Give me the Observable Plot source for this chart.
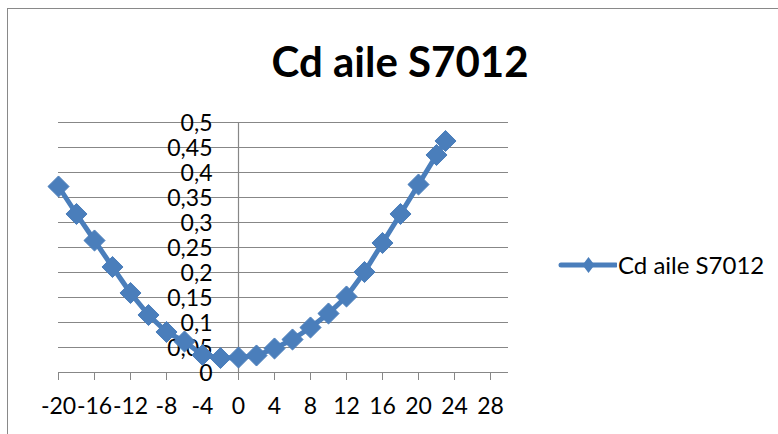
<!DOCTYPE html>
<html>
<head>
<meta charset="utf-8">
<script src="https://cdn.jsdelivr.net/npm/d3@7"></script>
<script src="https://cdn.jsdelivr.net/npm/@observablehq/plot@0.6"></script>
<style>
html, body { margin: 0; padding: 0; background: #fff; overflow: hidden; }
#wrap { position: relative; width: 778px; height: 434px; font-family: Lato, "Open Sans", sans-serif; color: #000; }
#frame { position: absolute; left: 7px; top: 8px; width: 900px; height: 600px; border: 1px solid #898989; box-sizing: border-box; }
#chart { position: absolute; left: 0; top: 0; }
#title { position: absolute; left: 0; top: 40px; width: 800px; text-align: center; font-weight: bold; font-size: 42px; line-height: 42px; }
#legend { position: absolute; left: 555px; top: 250px; height: 30px; display: flex; align-items: center; }
#legend span { font-size: 24px; line-height: 30px; margin-left: 1px; }
</style>
</head>
<body>
<div id="wrap">
  <div id="frame"></div>
  <div id="chart"></div>
  <div id="title">Cd aile S7012</div>
  <div id="legend">
    <svg width="62" height="30" viewBox="0 0 62 30">
      <line x1="6" y1="15" x2="61" y2="15" stroke="#4a7ebb" stroke-width="5" stroke-linecap="round"></line>
      <polygon points="33.5,7 39.5,15 33.5,23 27.5,15" fill="#4a7ebb"></polygon>
    </svg>
    <span>Cd aile S7012</span>
  </div>
</div>
<script>
// Angle of attack (deg)
const alpha = [-20, -18, -16, -14, -12, -10, -8, -6, -4, -2, 0, 2, 4, 6, 8, 10, 12, 14, 16, 18, 20, 22, 23];
// Cd aile S7012
const cd = [0.372, 0.317, 0.264, 0.211, 0.159, 0.115, 0.081, 0.062, 0.035, 0.029, 0.030, 0.034, 0.048, 0.066, 0.090, 0.118, 0.152, 0.201, 0.259, 0.317, 0.376, 0.435, 0.463];
const seriesName = "Cd aile S7012";

const xTicks = [-20, -16, -12, -8, -4, 0, 4, 8, 12, 16, 20, 24, 28];
const xTickLabels = ["-20", "-16", "-12", "-8", "-4", "0", "4", "8", "12", "16", "20", "24", "28"];
const yTicks = [0, 0.05, 0.1, 0.15, 0.2, 0.25, 0.3, 0.35, 0.4, 0.45, 0.5];
const yTickLabels = ["0", "0,05", "0,1", "0,15", "0,2", "0,25", "0,3", "0,35", "0,4", "0,45", "0,5"];

const data = alpha.map((a, i) => ({alpha: a, cd: cd[i], series: seriesName}));
const yLab = yTicks.map((v, i) => ({v, label: yTickLabels[i]}));
const gridColor = "#878787";
const blue = "#4a7ebb";

const chart = Plot.plot({
  width: 778,
  height: 434,
  marginLeft: 58,
  marginRight: 270,
  marginTop: 122,
  marginBottom: 62,
  style: {fontFamily: "Lato, 'Open Sans', sans-serif", fontSize: "23px", color: "#000", background: "transparent", overflow: "visible"},
  x: {
    domain: [-20, 30],
    ticks: xTicks,
    tickFormat: d => xTickLabels[xTicks.indexOf(d)],
    tickSize: 8,
    tickPadding: 17,
    label: null
  },
  y: {domain: [0, 0.5], axis: null},
  marks: [
    Plot.ruleY(yTicks.filter(d => d > 0), {stroke: gridColor, strokeWidth: 1.2}),
    Plot.ruleX([0], {y1: 0, y2: 0.5, stroke: gridColor, strokeWidth: 1.2}),
    Plot.ruleY([0], {stroke: gridColor, strokeWidth: 1.2}),
    Plot.text(yLab, {x: 0, y: "v", text: "label", textAnchor: "end", dx: -26, dy: 1, fontSize: 23, fill: "#000"}),
    Plot.line(data, {x: "alpha", y: "cd", stroke: blue, strokeWidth: 5}),
    Plot.dot(data, {x: "alpha", y: "cd", symbol: "diamond2", r: 9.5, fill: blue, stroke: blue, strokeWidth: 1})
  ]
});
chart.querySelectorAll('[aria-label="x-axis tick"] path, [aria-label="x-axis"] path').forEach(p => p.setAttribute("stroke", gridColor));
document.getElementById("chart").appendChild(chart);
</script>
</body>
</html>
